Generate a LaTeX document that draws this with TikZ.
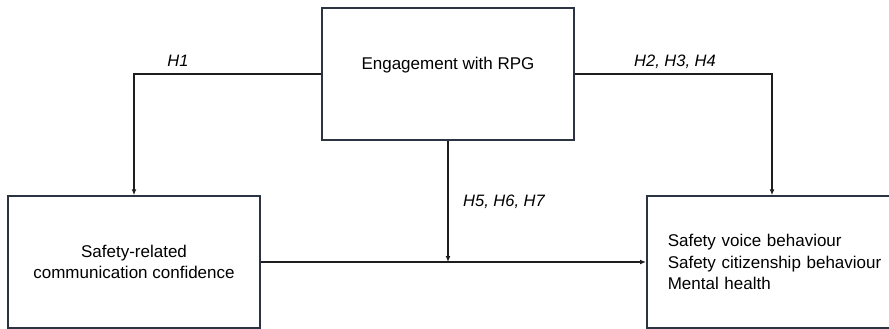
\documentclass[tikz,border=0pt]{standalone}
\usepackage{fontspec}
\setmainfont{Liberation Sans}
\usetikzlibrary{arrows.meta}
\definecolor{boxline}{HTML}{2B3440}
\definecolor{arrline}{HTML}{1E1E1E}
\hyphenpenalty=10000

\tikzset{
  box/.style={draw=boxline, line width=1.5pt, minimum width=252pt, minimum height=132pt,
    inner sep=0pt, font=\fontsize{17}{21.5}\selectfont, align=center},
  link/.style={draw=arrline, line width=1.3pt, -{Latex[length=6pt,width=5pt]}},
  hyp/.style={font=\fontsize{16.5}{20}\selectfont\itshape, inner sep=0pt}
}

\begin{document}
\begin{tikzpicture}[x=1pt,y=1pt]
\useasboundingbox (0,0) rectangle (889,-329);

\node[box] (eng) at (448,-74) {Engagement with RPG\\[0pt]};
\node[box] (conf) at (134,-262) {Safety-related\\communication confidence};
\node[box, align=left, inner xsep=21pt, text width=248pt, anchor=west] (outc) at (646,-262)
  {Safety voice behaviour\\Safety citizenship behaviour\\Mental health};

\coordinate (meet) at (eng.south |- conf.east);
\coordinate (drop) at ([xshift=126pt]outc.north west);

\draw[link] (eng.west) -| (conf.north);
\draw[link] (eng.east) -| (drop);
\draw[link] (conf.east) -- (outc.west);
\draw[link] (eng.south) -- (meet);

\node[hyp] (h1) at (178,-61) {H1};
\node[hyp] (h234) at (675,-62) {H2, H3, H4};
\node[hyp] (h567) at (504,-202) {H5, H6, H7};
\end{tikzpicture}
\end{document}
